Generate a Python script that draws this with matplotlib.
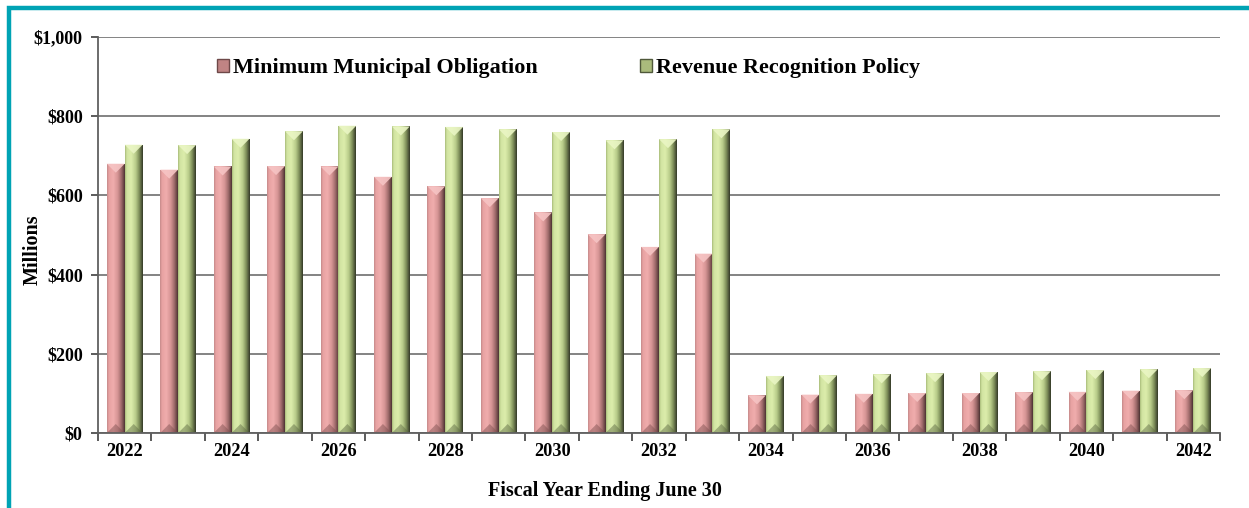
import numpy as np
import matplotlib
matplotlib.use("Agg")
import matplotlib.pyplot as plt
from matplotlib.colors import LinearSegmentedColormap
from matplotlib.patches import Polygon, Patch, Rectangle

# ---------------------------------------------------------
# Data ($ millions)
# ---------------------------------------------------------
years = list(range(2022, 2043))

mmo = [680, 665, 673, 674, 673, 647, 623, 593, 557, 502, 470, 453,
       95, 97, 99, 101, 101, 103, 104, 107, 108]

rrp = [728, 727, 743, 762, 776, 774, 773, 767, 760, 739, 742, 767,
       144, 146, 148, 151, 154, 156, 159, 161, 164]

series_names = ["Minimum Municipal Obligation", "Revenue Recognition Policy"]

# ---------------------------------------------------------
# Styling
# ---------------------------------------------------------
plt.rcParams["font.family"] = ["Liberation Serif", "DejaVu Serif"]
plt.rcParams["font.weight"] = "bold"

red_cmap = LinearSegmentedColormap.from_list("red_bevel", [
    (0.00, "#c48a8a"), (0.10, "#e8a2a2"), (0.35, "#f0adad"),
    (0.60, "#d69494"), (0.80, "#a06c6c"), (0.93, "#6e4848"),
    (1.00, "#4a3232")])
green_cmap = LinearSegmentedColormap.from_list("green_bevel", [
    (0.00, "#a9bd7a"), (0.10, "#d2e4a2"), (0.35, "#dcedab"),
    (0.60, "#b9cc8a"), (0.80, "#7f8f5a"), (0.93, "#4f583a"),
    (1.00, "#343a28")])

bar_width = 0.335
bevel_px = 9

fig = plt.figure(figsize=(12.49, 5.08), dpi=100)
ax = fig.add_axes([98 / 1249, 75 / 508, 1122 / 1249, 396 / 508])

x = np.arange(len(years))

red_bars = ax.bar(x - bar_width / 2, mmo, bar_width, color="#e0a0a0",
                  zorder=2, linewidth=0)
green_bars = ax.bar(x + bar_width / 2, rrp, bar_width, color="#c8dc98",
                    zorder=2, linewidth=0)

ax.set_xlim(-0.5, len(years) - 0.5)
ax.set_ylim(0, 1000)

# data units per pixel, used for the bevel depth
dy = bevel_px * 1000 / 396

gradient = np.linspace(0, 1, 64).reshape(1, -1)


def shade_bars(bars, cmap, top_color, bottom_color):
    for bar in bars:
        x0 = bar.get_x()
        w = bar.get_width()
        h = bar.get_height()
        x1 = x0 + w
        xc = x0 + w / 2

        img = ax.imshow(gradient, cmap=cmap, aspect="auto",
                        extent=(x0, x1, 0, h), zorder=3,
                        interpolation="bilinear")
        img.set_clip_path(bar)

        # light bevel on top
        ax.add_patch(Polygon([(x0, h), (x1, h), (xc, h - dy)],
                             closed=True, facecolor=top_color,
                             edgecolor="none", alpha=0.9, zorder=4))
        # darker bevel at the foot
        ax.add_patch(Polygon([(x0, 0), (x1, 0), (xc, dy)],
                             closed=True, facecolor=bottom_color,
                             edgecolor="none", alpha=0.45, zorder=4))


shade_bars(red_bars, red_cmap, "#f6c4c4", "#7a4c4c")
shade_bars(green_bars, green_cmap, "#eaf6c4", "#5a6640")

# ---------------------------------------------------------
# Axes
# ---------------------------------------------------------
ax.set_yticks(range(0, 1001, 200))
ax.set_yticklabels(["$0", "$200", "$400", "$600", "$800", "$1,000"])
ax.yaxis.grid(True, color="#7a7a7a", linewidth=1.3, zorder=1)
ax.set_axisbelow(True)

ax.set_xticks(x[::2])
ax.set_xticklabels([str(y) for y in years[::2]])
ax.set_xticks(np.arange(-0.5, len(years), 1), minor=True)

ax.tick_params(axis="x", which="major", length=0, pad=7, labelsize=13.2)
ax.tick_params(axis="x", which="minor", length=6, width=1.2,
               color="#404040", direction="out")
ax.tick_params(axis="y", length=5, width=1.2, color="#404040",
               labelsize=13, pad=6)

for side in ["top", "right"]:
    ax.spines[side].set_visible(False)
for side in ["left", "bottom"]:
    ax.spines[side].set_color("#606060")
    ax.spines[side].set_linewidth(1.3)
    ax.spines[side].set_zorder(5)

fig.text(33 / 1249, 1 - 250 / 508, "Millions", rotation=90,
         ha="center", va="center", fontsize=14.5, fontweight="bold")
fig.text(605 / 1249, 1 - 491 / 508, "Fiscal Year Ending June 30",
         ha="center", va="center", fontsize=14.5, fontweight="bold")

# ---------------------------------------------------------
# Legend
# ---------------------------------------------------------
handles = [Patch(facecolor="#c08484", edgecolor="#6e4848"),
           Patch(facecolor="#aabb7c", edgecolor="#4f583a")]
ax.legend(handles, series_names, ncol=2, loc="center left",
          bbox_to_anchor=(110 / 1122, 1 - 31 / 396), frameon=False,
          fontsize=15.9, handlelength=0.55, handleheight=0.55,
          handletextpad=0.2, columnspacing=4.6, borderaxespad=0)

# teal frame
fig.add_artist(Rectangle((8.5 / 1249, -0.1), 1.2, 1 - 8 / 508 + 0.1,
                         transform=fig.transFigure, fill=False,
                         edgecolor="#00a3b4", linewidth=3.2))

plt.savefig("out.png", dpi=100)
plt.close()
